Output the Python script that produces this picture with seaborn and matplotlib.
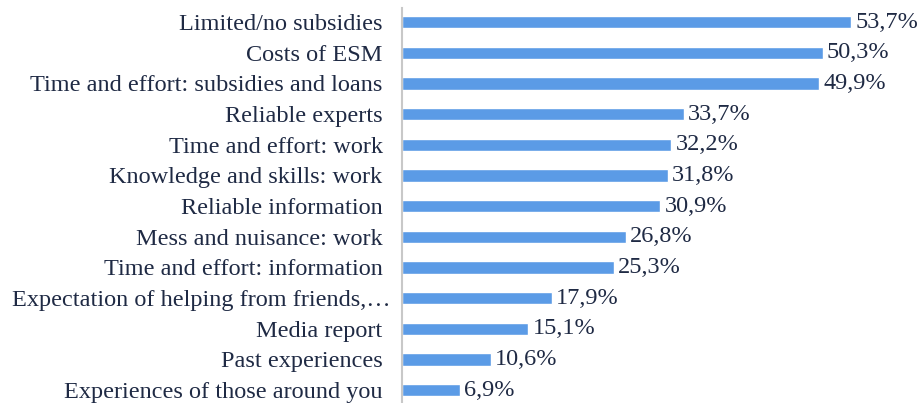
"""
Barriers to energy saving measures - horizontal bar chart
"""

import matplotlib
matplotlib.use("Agg")
import matplotlib.pyplot as plt
import matplotlib.transforms as mtransforms
import seaborn as sns
import pandas as pd

categories = [
    "Limited/no subsidies",
    "Costs of ESM",
    "Time and effort: subsidies and loans",
    "Reliable experts",
    "Time and effort: work",
    "Knowledge and skills: work",
    "Reliable information",
    "Mess and nuisance: work",
    "Time and effort: information",
    "Expectation of helping from friends,\u2026",
    "Media report",
    "Past experiences",
    "Experiences of those around you",
]
percentages = [53.7, 50.3, 49.9, 33.7, 32.2, 31.8, 30.9, 26.8, 25.3, 17.9, 15.1, 10.6, 6.9]

df = pd.DataFrame({"category": categories, "pct": percentages})

sns.set_style("white")
plt.rcParams["font.family"] = ["Liberation Serif", "DejaVu Serif"]
text_color = "#1f2a44"
bar_color = "#5b9be6"
fsize = 17.5

fig = plt.figure(figsize=(9.22, 4.03), dpi=100)
ax = fig.add_axes([0.436, 0.0, 0.564, 0.98])

sns.barplot(data=df, x="pct", y="category", color=bar_color, width=0.4,
            saturation=1, ax=ax, orient="h")

ax.bar_label(ax.containers[0],
             labels=[f"{v:.1f}%".replace(".", ",") for v in percentages],
             padding=3, fontsize=fsize, color=text_color)

ax.set_xlim(0, 62.2)
ax.set_ylim(12.42, -0.46)
ax.set_xlabel("")
ax.set_ylabel("")
ax.set_xticks([])
ax.tick_params(axis="y", length=0, pad=14, labelsize=fsize, labelcolor=text_color)

# the truncated label runs a little past the others, as in the source
for lab in ax.get_yticklabels():
    if lab.get_text().endswith("\u2026"):
        lab.set_transform(lab.get_transform() +
                          mtransforms.ScaledTranslation(8 / 100, 0, fig.dpi_scale_trans))

for side in ["top", "right", "bottom"]:
    ax.spines[side].set_visible(False)
ax.spines["left"].set_color("#c8c8c8")
ax.spines["left"].set_linewidth(1.5)

plt.savefig("out.png", dpi=100)
plt.close()
